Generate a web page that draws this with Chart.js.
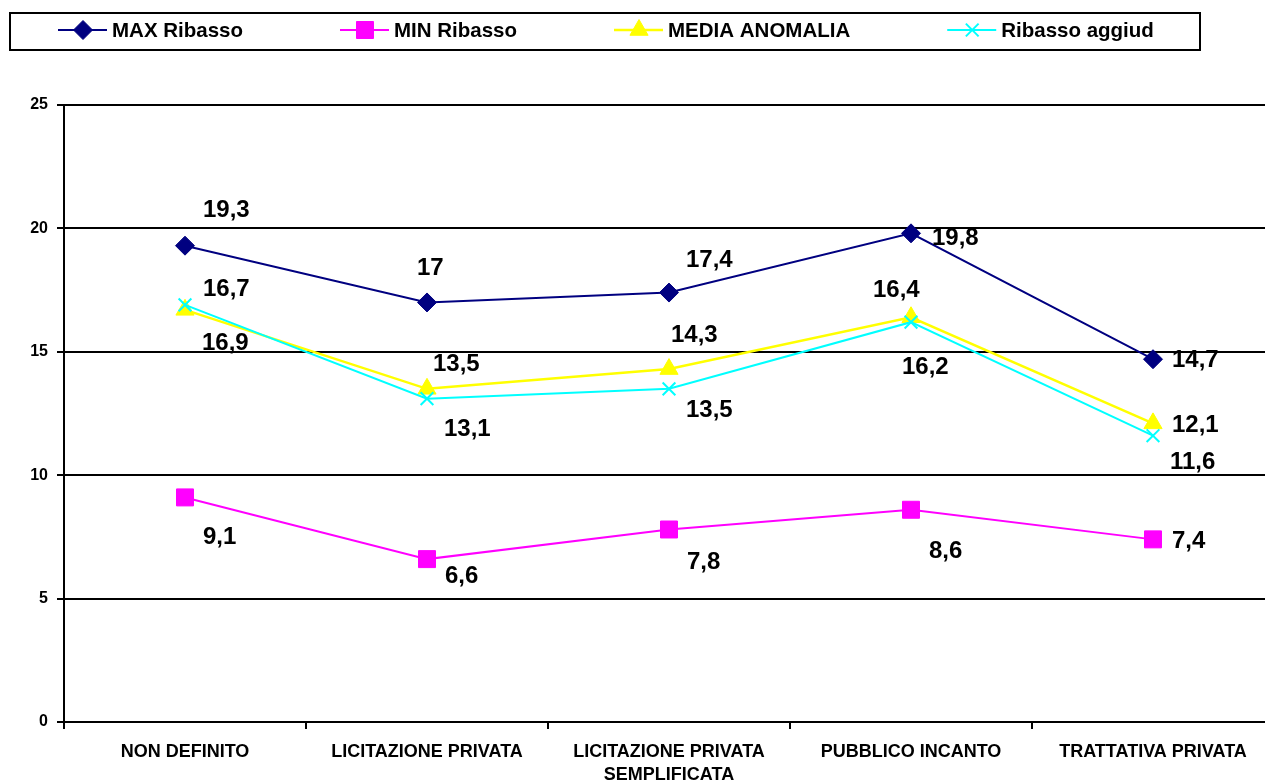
<!DOCTYPE html>
<html>
<head>
<meta charset="utf-8">
<script src="https://cdn.jsdelivr.net/npm/chart.js@4.4.1/dist/chart.umd.min.js"></script>
<style>
  html, body { margin: 0; padding: 0; background: #fff; overflow: hidden; }
  #clip { position: absolute; left: 0; top: 0; width: 1265px; height: 782px; overflow: hidden; }
  #clip canvas { position: absolute; left: 0; top: 0; }
</style>
</head>
<body>
<div id="clip"><canvas id="myChart" width="1287" height="782"></canvas></div>
<script>
// categories and values
const categories = [
  'NON DEFINITO',
  'LICITAZIONE PRIVATA',
  ['LICITAZIONE PRIVATA', 'SEMPLIFICATA'],
  'PUBBLICO INCANTO',
  'TRATTATIVA PRIVATA'
];
const maxRibasso = [19.3, 17, 17.4, 19.8, 14.7];
const minRibasso = [9.1, 6.6, 7.8, 8.6, 7.4];
const mediaAnomalia = [16.7, 13.5, 14.3, 16.4, 12.1];
const ribassoAggiud = [16.9, 13.1, 13.5, 16.2, 11.6];
const yTicks = [0, 5, 10, 15, 20, 25];

const FONT = '"Liberation Sans", Arial, sans-serif';

// where Excel put each value label, relative to its point
const labelNudge = [
  [[18, -35], [-10, -34], [17, -32], [21, 5], [19, 1]],
  [[18, 40], [18, 17], [18, 33], [18, 42], [19, 2]],
  [[18, -20], [6, -24], [2, -34], [-38, -27], [19, 2]],
  [[17, 38], [17, 31], [17, 22], [-9, 45], [17, 27]]
];

const valueLabels = {
  id: 'valueLabels',
  afterDatasetsDraw(chart) {
    const ctx = chart.ctx;
    ctx.save();
    ctx.font = 'bold 24px ' + FONT;
    ctx.fillStyle = '#000';
    ctx.textAlign = 'left';
    ctx.textBaseline = 'middle';
    chart.data.datasets.forEach((ds, i) => {
      const meta = chart.getDatasetMeta(i);
      meta.data.forEach((pt, j) => {
        const n = labelNudge[i][j];
        ctx.fillText(String(ds.data[j]).replace('.', ','), pt.x + n[0], pt.y + n[1]);
      });
    });
    ctx.restore();
  }
};

const boxLegend = {
  id: 'boxLegend',
  afterDraw(chart) {
    const ctx = chart.ctx;
    ctx.save();
    ctx.lineWidth = 2;
    ctx.strokeStyle = '#000';
    ctx.strokeRect(10, 13, 1190, 37);
    ctx.font = 'bold 20.5px ' + FONT;
    ctx.textBaseline = 'middle';
    ctx.textAlign = 'left';
    let x = 58;
    const y = 30;
    chart.data.datasets.forEach(ds => {
      ctx.strokeStyle = ds.borderColor;
      ctx.lineWidth = ds.borderWidth;
      ctx.beginPath();
      ctx.moveTo(x, y);
      ctx.lineTo(x + 49, y);
      ctx.stroke();
      ctx.fillStyle = ds.pointBackgroundColor;
      ctx.strokeStyle = ds.borderColor;
      ctx.lineWidth = ds.pointBorderWidth;
      Chart.helpers.drawPoint(ctx, {pointStyle: ds.pointStyle, radius: ds.pointRadius, rotation: 0, borderWidth: ds.pointBorderWidth}, x + 25, y);
      ctx.fillStyle = '#000';
      ctx.fillText(ds.label, x + 54, y + 1);
      x += 54 + ctx.measureText(ds.label).width + 97;
    });
    ctx.restore();
  }
};

function series(label, data, color, style, radius, width, order) {
  return {
    label: label,
    data: data,
    borderColor: color,
    backgroundColor: color,
    borderWidth: width,
    pointStyle: style,
    pointRadius: radius,
    pointHoverRadius: radius,
    pointBackgroundColor: color,
    pointBorderColor: color,
    pointBorderWidth: style === 'crossRot' ? 2 : 1,
    tension: 0,
    fill: false,
    order: order
  };
}

new Chart('myChart', {
  type: 'line',
  data: {
    labels: categories,
    datasets: [
      series('MAX Ribasso', maxRibasso, '#000080', 'rectRot', 9.5, 2, 3),
      series('MIN Ribasso', minRibasso, '#FF00FF', 'rect', 12, 2, 2),
      series('MEDIA ANOMALIA', mediaAnomalia, '#FFFF00', 'triangle', 10.5, 2.5, 1),
      series('Ribasso aggiud', ribassoAggiud, '#00FFFF', 'crossRot', 9, 2, 0)
    ]
  },
  options: {
    responsive: false,
    animation: false,
    events: [],
    layout: { padding: { top: 105, right: 6, left: 0, bottom: 0 } },
    plugins: {
      legend: { display: false },
      tooltip: { enabled: false }
    },
    scales: {
      x: {
        offset: true,
        grid: { offset: true, drawOnChartArea: false, drawTicks: true, tickLength: 7, color: '#000', lineWidth: 2 },
        border: { color: '#000', width: 2 },
        ticks: { color: '#000', font: { family: FONT, size: 18, weight: 'bold', lineHeight: 1.25 }, padding: 12, maxRotation: 0, autoSkip: false },
        afterFit(scale) { scale.height = 60; }
      },
      y: {
        min: 0,
        max: 25,
        afterBuildTicks(scale) { scale.ticks = yTicks.map(v => ({ value: v })); },
        grid: { color: '#000', lineWidth: 2, drawTicks: true, tickLength: 7, tickColor: '#000' },
        border: { color: '#000', width: 2 },
        ticks: { color: '#000', font: { family: FONT, size: 16, weight: 'bold' }, padding: 9 },
        afterFit(scale) { scale.width = 64; }
      }
    }
  },
  plugins: [valueLabels, boxLegend]
});
</script>
</body>
</html>
